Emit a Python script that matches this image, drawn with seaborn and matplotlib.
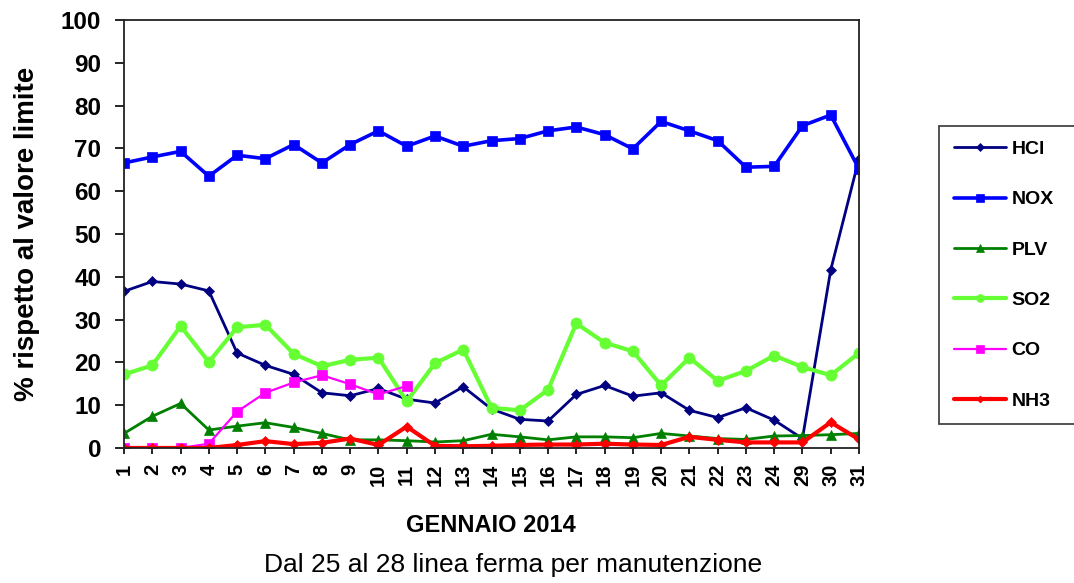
import matplotlib
matplotlib.use("Agg")
import matplotlib.pyplot as plt
import pandas as pd
import numpy as np
import seaborn as sns

# giorni di gennaio 2014 (dal 25 al 28 impianto fermo)
giorni = ['1', '2', '3', '4', '5', '6', '7', '8', '9', '10', '11', '12', '13', '14',
          '15', '16', '17', '18', '19', '20', '21', '22', '23', '24', '29', '30', '31']

hcl = [36.6, 38.9, 38.3, 36.7, 22.2, 19.3, 17.2, 12.9, 12.2, 13.9, 11.4, 10.5, 14.3, 9.1,
       6.7, 6.3, 12.5, 14.6, 12.1, 12.9, 8.8, 7.1, 9.4, 6.5, 2.2, 41.6, 67.6]
nox = [66.6, 68.0, 69.3, 63.5, 68.4, 67.6, 70.9, 66.6, 70.9, 74.1, 70.5, 72.9, 70.5, 71.8,
       72.3, 74.1, 75.0, 73.2, 69.9, 76.3, 74.1, 71.8, 65.6, 65.8, 75.3, 77.8, 65.2]
plv = [3.4, 7.4, 10.4, 4.2, 5.1, 5.9, 4.8, 3.4, 1.9, 1.9, 1.7, 1.4, 1.7, 3.2,
       2.6, 1.9, 2.6, 2.6, 2.4, 3.4, 2.8, 2.2, 2.0, 2.8, 2.9, 3.1, 3.4]
so2 = [17.2, 19.3, 28.5, 20.1, 28.2, 28.8, 22.0, 19.1, 20.6, 21.1, 10.9, 19.8, 23.0, 9.4,
       8.8, 13.6, 29.1, 24.6, 22.6, 14.6, 21.1, 15.7, 18.0, 21.6, 18.9, 17.0, 22.2]
co = [0.0, 0.0, 0.0, 1.0, 8.5, 12.9, 15.3, 17.0, 14.9, 12.5, 14.5] + [np.nan] * 16
nh3 = [0.0, 0.0, 0.0, 0.0, 0.7, 1.6, 0.9, 1.2, 2.2, 0.7, 5.0, 0.5, 0.4, 0.5,
       0.7, 0.8, 0.8, 1.0, 0.8, 0.7, 2.6, 1.9, 1.3, 1.3, 1.3, 6.0, 2.0]

df = pd.DataFrame({'pos': np.arange(len(giorni)), 'giorno': giorni,
                   'HCl': hcl, 'NOX': nox, 'PLV': plv, 'SO2': so2, 'CO': co, 'NH3': nh3})

stili = {
    'HCl': dict(color='#000080', marker='D', markersize=5.5, linewidth=2.0),
    'NOX': dict(color='#0000FF', marker='s', markersize=7.5, linewidth=2.6),
    'PLV': dict(color='#008000', marker='^', markersize=7.5, linewidth=2.0),
    'SO2': dict(color='#66FF33', marker='o', markersize=8, linewidth=3.0),
    'CO':  dict(color='#FF00FF', marker='s', markersize=7.5, linewidth=1.6),
    'NH3': dict(color='#FF0000', marker='D', markersize=5, linewidth=3.0),
}

sns.set_theme(style='ticks')
plt.rcParams['font.family'] = ['Liberation Sans', 'DejaVu Sans']
plt.rcParams.update({'text.color': 'black', 'axes.labelcolor': 'black',
                     'xtick.color': 'black', 'ytick.color': 'black'})

fig = plt.figure(figsize=(10.74, 5.83), dpi=100)
ax = fig.add_axes([0.1155, 0.2316, 0.6843, 0.7341])

for nome, st in stili.items():
    sns.lineplot(data=df, x='pos', y=nome, ax=ax, label=nome,
                 color=st['color'], marker=st['marker'], markersize=st['markersize'],
                 linewidth=st['linewidth'], markeredgecolor=st['color'], markeredgewidth=0.5)

ax.set_xlim(0, len(giorni) - 1)
ax.set_ylim(0, 100)
ax.set_xticks(df['pos'])
ax.set_xticklabels(giorni, rotation=90, fontweight='bold', fontsize=14.5)
ax.set_yticks(range(0, 101, 10))
ax.set_yticklabels([str(v) for v in range(0, 101, 10)], fontweight='bold', fontsize=17.5)
ax.tick_params(axis='y', direction='out', length=6.5, width=1.2, color='black', pad=10)
ax.tick_params(axis='x', direction='out', length=4.5, width=1.2, color='black', pad=7)
ax.set_xlabel('')
ax.set_ylabel('% rispetto al valore limite', fontsize=20, fontweight='bold')
ax.yaxis.set_label_coords(-0.115, 0.5)
for sp in ax.spines.values():
    sp.set_color('#222222')
    sp.set_linewidth(1.3)

fig.text(0.457, 0.098, 'GENNAIO 2014', ha='center', va='center', fontsize=17, fontweight='bold')
fig.text(0.478, 0.031, 'Dal 25 al 28 linea ferma per manutenzione', ha='center', va='center', fontsize=19)

# legenda tagliata dal bordo destro come nell'originale
leg = ax.legend(loc='upper left', bbox_to_anchor=(939 / 1074, 0, 0.2, 1 - 126 / 583),
                bbox_transform=fig.transFigure, borderaxespad=0, mode='expand',
                frameon=True, fancybox=False, edgecolor='#444444', framealpha=1,
                prop={'weight': 'bold', 'size': 14}, labelspacing=1.68, borderpad=0.75,
                handlelength=2.7, handletextpad=0.28, markerscale=0.7)
leg.get_frame().set_linewidth(1.3)

fig.savefig('out.png', dpi=100)
